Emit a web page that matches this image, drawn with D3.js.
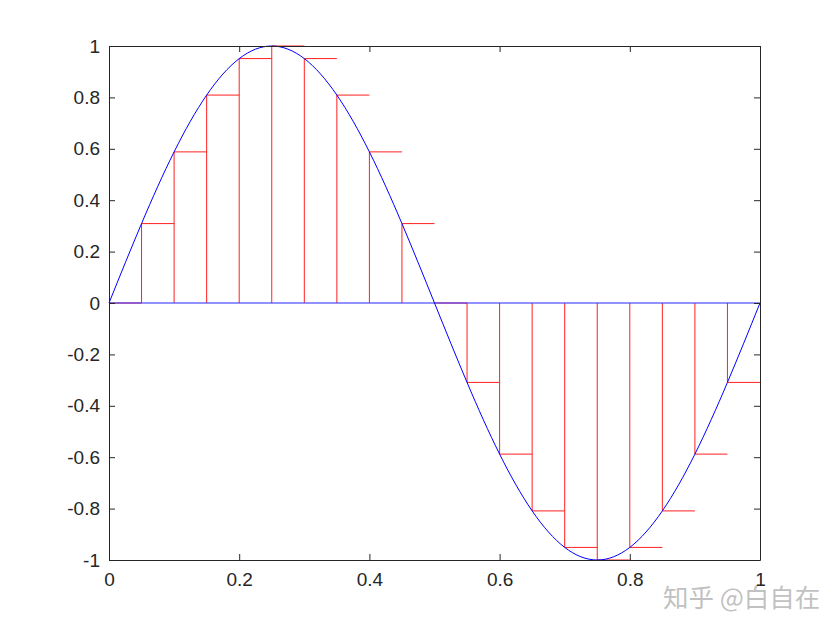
<!DOCTYPE html>
<html><head><meta charset="utf-8">
<script src="https://cdn.jsdelivr.net/npm/d3@7"></script>
<style>body{margin:0;background:#fff}svg{display:block}</style>
</head><body>
<script>
const sampleX = [0,0.05,0.1,0.15,0.2,0.25,0.3,0.35,0.4,0.45,0.5,0.55,0.6,0.65,0.7,0.75,0.8,0.85,0.9,0.95,1];
const sampleY = [0,0.309,0.588,0.809,0.951,1,0.951,0.809,0.588,0.309,0,-0.309,-0.588,-0.809,-0.951,-1,-0.951,-0.809,-0.588,-0.309,0];
const xTicks = [0,0.2,0.4,0.6,0.8,1];
const yTicks = [-1,-0.8,-0.6,-0.4,-0.2,0,0.2,0.4,0.6,0.8,1];
const stepWidth = 0.05;

const W=840,H=630;
const L=109,R=760,T=46,B=560;
const svg=d3.select("body").append("svg").attr("width",W).attr("height",H);
const x=d3.scaleLinear().domain([0,1]).range([L,R]);
const y=d3.scaleLinear().domain([-1,1]).range([B,T]);
const fmt=v=>String(v);

const g=svg.append("g");
const steps = sampleX.slice(0,-1).map((v,i)=>({x:v,y:sampleY[i]}));
g.selectAll("line.v").data(steps).join("line")
 .attr("x1",d=>x(d.x)).attr("x2",d=>x(d.x)).attr("y1",y(0)).attr("y2",d=>y(d.y))
 .attr("stroke","#ff2020").attr("stroke-width",1);
g.selectAll("line.h").data(steps).join("line")
 .attr("x1",d=>x(d.x)).attr("x2",d=>x(d.x+stepWidth)).attr("y1",d=>y(d.y)).attr("y2",d=>y(d.y))
 .attr("stroke","#ff2020").attr("stroke-width",1);
g.append("line").attr("x1",x(0)).attr("x2",x(1)).attr("y1",y(0)).attr("y2",y(0))
 .attr("stroke","#3030ff").attr("stroke-opacity",0.7).attr("stroke-width",1.3);
const pts=sampleX.map((v,i)=>[v,sampleY[i]]);
g.append("path").datum(pts).attr("fill","none").attr("stroke","#0000ff").attr("stroke-width",1)
 .attr("d",d3.line().x(d=>x(d[0])).y(d=>y(d[1])).curve(d3.curveNatural));

const xa=svg.append("g").attr("transform",`translate(0,${B})`)
 .call(d3.axisBottom(x).tickValues(xTicks).tickFormat(fmt).tickSizeInner(-6).tickSizeOuter(0).tickPadding(13));
svg.append("g").attr("transform",`translate(0,${T})`)
 .call(d3.axisTop(x).tickValues(xTicks).tickFormat("").tickSizeInner(-6).tickSizeOuter(0));
const ya=svg.append("g").attr("transform",`translate(${L},0)`)
 .call(d3.axisLeft(y).tickValues(yTicks).tickFormat(fmt).tickSizeInner(-6).tickSizeOuter(0).tickPadding(9));
svg.append("g").attr("transform",`translate(${R},0)`)
 .call(d3.axisRight(y).tickValues(yTicks).tickFormat("").tickSizeInner(-6).tickSizeOuter(0));
svg.selectAll("g").attr("font-size",null).attr("font-family",null);
svg.selectAll(".domain").attr("stroke","#262626");
svg.selectAll(".tick line").attr("stroke","#262626");
svg.selectAll(".tick text").attr("fill","#262626")
 .attr("font-family","Liberation Sans, Arial, sans-serif").attr("font-size",19);
svg.append("text").attr("x",663).attr("y",607).text("知乎 @白自在")
 .attr("font-family","Noto Sans CJK SC").attr("font-size",25.5).attr("fill","#b0b0b0").attr("fill-opacity",0.8);
</script>
</body></html>
